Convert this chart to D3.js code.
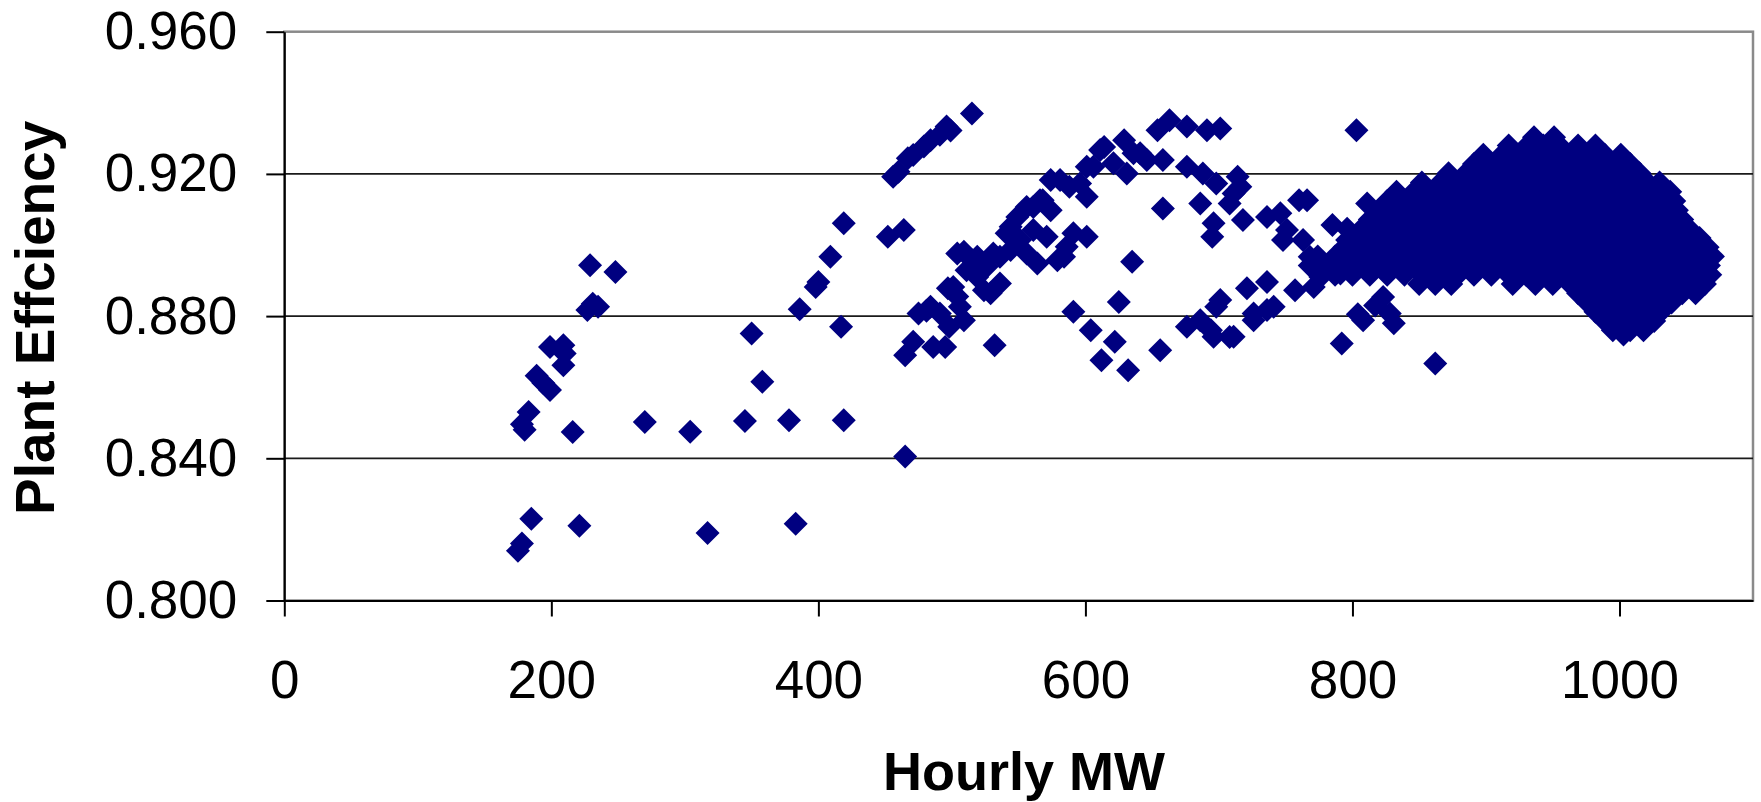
<!DOCTYPE html>
<html>
<head>
<meta charset="utf-8">
<script src="https://cdn.jsdelivr.net/npm/d3@7"></script>
<style>
  body { margin: 0; background: #fff; overflow: hidden; }
  svg { display: block; font-family: "Liberation Sans", Arial, sans-serif; }
  .axis path, .axis line { stroke: #000; stroke-width: 2; }
  .axis text { font-size: 53px; fill: #000; }
  .title { font-size: 55px; font-weight: bold; fill: #000; }
</style>
</head>
<body>
<div id="chart"></div>
<script>
const xTicks = [0, 200, 400, 600, 800, 1000];
const yTicks = [0.800, 0.840, 0.880, 0.920, 0.960];

// [MW, efficiency]
const lowLoad = [
  [175, 0.814], [178, 0.816], [185, 0.823], [221, 0.821],
  [178, 0.8496], [180, 0.8480], [183, 0.8530], [216, 0.8474],
  [189, 0.8632], [194, 0.8612], [199, 0.8592],
  [199, 0.8713], [209, 0.8718], [210, 0.8695], [209, 0.8662],
  [227, 0.8817], [231, 0.8835], [235, 0.8826], [229, 0.8943], [248, 0.8924],
  [270, 0.8502], [304, 0.8475], [317, 0.8190], [345, 0.8505], [350, 0.8751],
  [358, 0.8615], [378, 0.8507], [383, 0.8216], [386, 0.8819], [398, 0.8882],
  [400, 0.8896], [409, 0.8967], [419, 0.9061], [417, 0.8770], [419, 0.8507]
];

const midLoad = [
  [452, 0.9023], [464, 0.9042], [456, 0.9192], [460, 0.9206], [467, 0.9244], [471, 0.9253],
  [479, 0.9277], [484, 0.9295], [491, 0.9310], [496, 0.9333], [499, 0.9322], [515, 0.9370],
  [465, 0.8405], [465, 0.8690], [471, 0.8728], [475, 0.8807], [481, 0.8815], [484, 0.8826],
  [491, 0.8807], [486, 0.8713], [495, 0.8713], [498, 0.8770], [497, 0.8878], [501, 0.8882],
  [504, 0.8855], [506, 0.8826], [509, 0.8788],
  [504, 0.8976], [509, 0.8981], [515, 0.8957], [511, 0.8929], [519, 0.8967], [526, 0.8939],
  [519, 0.8910], [531, 0.8976], [536, 0.8967], [524, 0.8873], [529, 0.8864], [536, 0.8892],
  [532, 0.8718],
  [541, 0.9033], [544, 0.8986], [551, 0.9014], [556, 0.8976], [564, 0.8948], [571, 0.9023],
  [561, 0.9042], [549, 0.9079], [544, 0.9051], [556, 0.9107], [561, 0.9107], [566, 0.9126],
  [574, 0.9098], [568, 0.9126],
  [579, 0.8957], [584, 0.8967], [586, 0.8995], [591, 0.9033], [601, 0.9023], [635, 0.8953],
  [574, 0.9183], [581, 0.9183], [588, 0.9164], [596, 0.9173], [601, 0.9136], [606, 0.9220],
  [601, 0.9220], [611, 0.9267], [614, 0.9276], [621, 0.9230], [629, 0.9295], [636, 0.9258],
  [641, 0.9258], [646, 0.9239], [631, 0.9201],
  [625, 0.8840], [591, 0.8812], [604, 0.8760], [622, 0.8728], [612, 0.8676], [632, 0.8648],
  [656, 0.8704],
  [654, 0.9323], [663, 0.9351], [676, 0.9333], [691, 0.9323], [701, 0.9328],
  [658, 0.9239], [676, 0.9220], [688, 0.9201], [698, 0.9173], [714, 0.9192], [716, 0.9164],
  [711, 0.9145], [686, 0.9117], [658, 0.9103], [708, 0.9117], [696, 0.9061], [695, 0.9023],
  [718, 0.9070],
  [736, 0.9079], [746, 0.9089], [751, 0.9042], [748, 0.9014], [760, 0.9126],
  [721, 0.8878], [736, 0.8896], [726, 0.8807], [736, 0.8817], [741, 0.8826], [757, 0.8873],
  [676, 0.8770], [686, 0.8788], [698, 0.8826], [701, 0.8845], [694, 0.8760], [696, 0.8742],
  [708, 0.8741], [711, 0.8742], [726, 0.8788]
];

const highLoad = [
  [763, 0.9014], [768, 0.8967], [771, 0.8882], [776, 0.8910], [783, 0.8939], [791, 0.8920],
  [796, 0.9014], [785, 0.9056], [792, 0.8723], [803, 0.9323], [811, 0.9117], [804, 0.8805],
  [808, 0.8788], [817, 0.8830], [823, 0.8854], [828, 0.8807], [831, 0.8780], [862, 0.8667],
  [766, 0.9126]
];

// dense block of hours at full load: efficiency band and the MW readings in it
const clusterEff = [0.9303, 0.9280, 0.9254, 0.9228, 0.9202, 0.9176, 0.9150, 0.9124,
  0.9098, 0.9072, 0.9046, 0.9020, 0.8994, 0.8968, 0.8942, 0.8916, 0.8890, 0.8864,
  0.8838, 0.8812, 0.8786, 0.8760, 0.8748];
const clusterMW = [
  [936, 951],
  [917, 931, 943, 955, 969, 982],
  [898, 912, 924, 937, 950, 964, 976, 989, 1001],
  [891, 904, 918, 930, 943, 957, 969, 982, 995, 1008],
  [872, 885, 899, 911, 924, 937, 951, 963, 976, 990, 1002, 1015],
  [852, 866, 878, 891, 905, 917, 930, 944, 956, 969, 982, 996, 1008, 1021, 1030],
  [833, 846, 860, 872, 885, 898, 912, 924, 937, 950, 963, 977, 989, 1002, 1015, 1028, 1038],
  [826, 839, 852, 866, 878, 891, 904, 917, 931, 943, 956, 969, 983, 995, 1008, 1021, 1034, 1041],
  [820, 833, 846, 859, 873, 885, 898, 911, 924, 938, 950, 963, 976, 989, 1003, 1015, 1028, 1043],
  [813, 826, 840, 852, 865, 878, 892, 904, 917, 930, 943, 957, 969, 982, 995, 1009, 1021, 1034, 1047],
  [796, 807, 820, 834, 846, 859, 872, 885, 899, 911, 924, 937, 950, 964, 976, 989, 1002, 1015, 1029, 1041, 1052],
  [800, 813, 826, 839, 853, 865, 878, 891, 904, 918, 930, 943, 956, 969, 983, 995, 1008, 1021, 1034, 1047, 1060],
  [794, 807, 820, 833, 846, 860, 872, 885, 898, 911, 925, 937, 950, 963, 976, 990, 1002, 1015, 1028, 1041, 1054, 1066],
  [774, 787, 800, 813, 827, 839, 852, 865, 878, 891, 904, 918, 930, 943, 956, 969, 982, 996, 1008, 1021, 1034, 1047, 1060, 1070],
  [768, 781, 794, 807, 820, 833, 847, 859, 872, 885, 898, 911, 924, 938, 950, 963, 976, 989, 1002, 1016, 1028, 1041, 1054, 1067],
  [787, 800, 813, 826, 839, 852, 865, 879, 891, 904, 917, 930, 943, 957, 969, 982, 995, 1008, 1021, 1035, 1047, 1060, 1068],
  [850, 862, 874, 920, 937, 950, 963, 976, 989, 1002, 1015, 1028, 1041, 1054, 1064],
  [969, 982, 995, 1008, 1021, 1034, 1047, 1057],
  [976, 989, 1002, 1015, 1028, 1039],
  [982, 995, 1008, 1021, 1031],
  [989, 1002, 1015, 1026],
  [995, 1008, 1018],
  [1003]
];

const cluster = clusterEff.flatMap((eff, i) => clusterMW[i].map((mw) => [mw, eff]));
const points = [...lowLoad, ...midLoad, ...highLoad, ...cluster];

const width = 1761;
const height = 802;
const margin = { top: 31.7, right: 8, bottom: 201.5, left: 284.3 };
const innerWidth = width - margin.left - margin.right;
const innerHeight = height - margin.top - margin.bottom;

const xScale = d3.scaleLinear()
  .domain([0, 1100])
  .range([0, innerWidth]);

const yScale = d3.scaleLinear()
  .domain([0.8, 0.96])
  .range([innerHeight, 0]);

const svg = d3.select("#chart")
  .append("svg")
    .attr("width", width)
    .attr("height", height)
    .attr("viewBox", `0 0 ${width} ${height}`);

const innerChart = svg
  .append("g")
    .attr("transform", `translate(${margin.left}, ${margin.top})`);

// plot area frame (grey top / right)
innerChart.append("rect")
  .attr("width", innerWidth)
  .attr("height", innerHeight)
  .attr("fill", "none")
  .attr("stroke", "#8a8a8a")
  .attr("stroke-width", 2.5);

// horizontal gridlines
innerChart.append("g")
  .selectAll("line")
  .data(yTicks.slice(1, -1))
  .join("line")
    .attr("x1", 0)
    .attr("x2", innerWidth)
    .attr("y1", (d) => yScale(d))
    .attr("y2", (d) => yScale(d))
    .attr("stroke", "#1a1a1a")
    .attr("stroke-width", 1.8);

// diamonds, square like the spreadsheet marker
const diamond = {
  draw(context, size) {
    const r = Math.sqrt(size / 2);
    context.moveTo(0, -r);
    context.lineTo(r, 0);
    context.lineTo(0, r);
    context.lineTo(-r, 0);
    context.closePath();
  }
};

innerChart.append("g")
  .selectAll("path")
  .data(points)
  .join("path")
    .attr("d", d3.symbol().type(diamond).size(288))
    .attr("transform", (d) => `translate(${xScale(d[0])}, ${yScale(d[1])})`)
    .attr("fill", "#000080");

// axes
innerChart.append("g")
  .attr("class", "axis")
  .call(d3.axisLeft(yScale)
    .tickValues(yTicks)
    .tickFormat(d3.format(".3f"))
    .tickSize(18)
    .tickSizeOuter(0)
    .tickPadding(29));

innerChart.append("g")
  .attr("class", "axis")
  .attr("transform", `translate(0, ${innerHeight})`)
  .call(d3.axisBottom(xScale)
    .tickValues(xTicks)
    .tickFormat(d3.format("d"))
    .tickSize(16)
    .tickSizeOuter(0)
    .tickPadding(44));

svg.selectAll(".axis text").attr("font-family", null);

// axis titles
svg.append("text")
  .attr("class", "title")
  .attr("transform", "translate(54, 515) rotate(-90)")
  .text("Plant Effciency");

svg.append("text")
  .attr("class", "title")
  .attr("x", 1024)
  .attr("y", 790)
  .attr("text-anchor", "middle")
  .style("font-size", "54px")
  .text("Hourly MW");
</script>
</body>
</html>
